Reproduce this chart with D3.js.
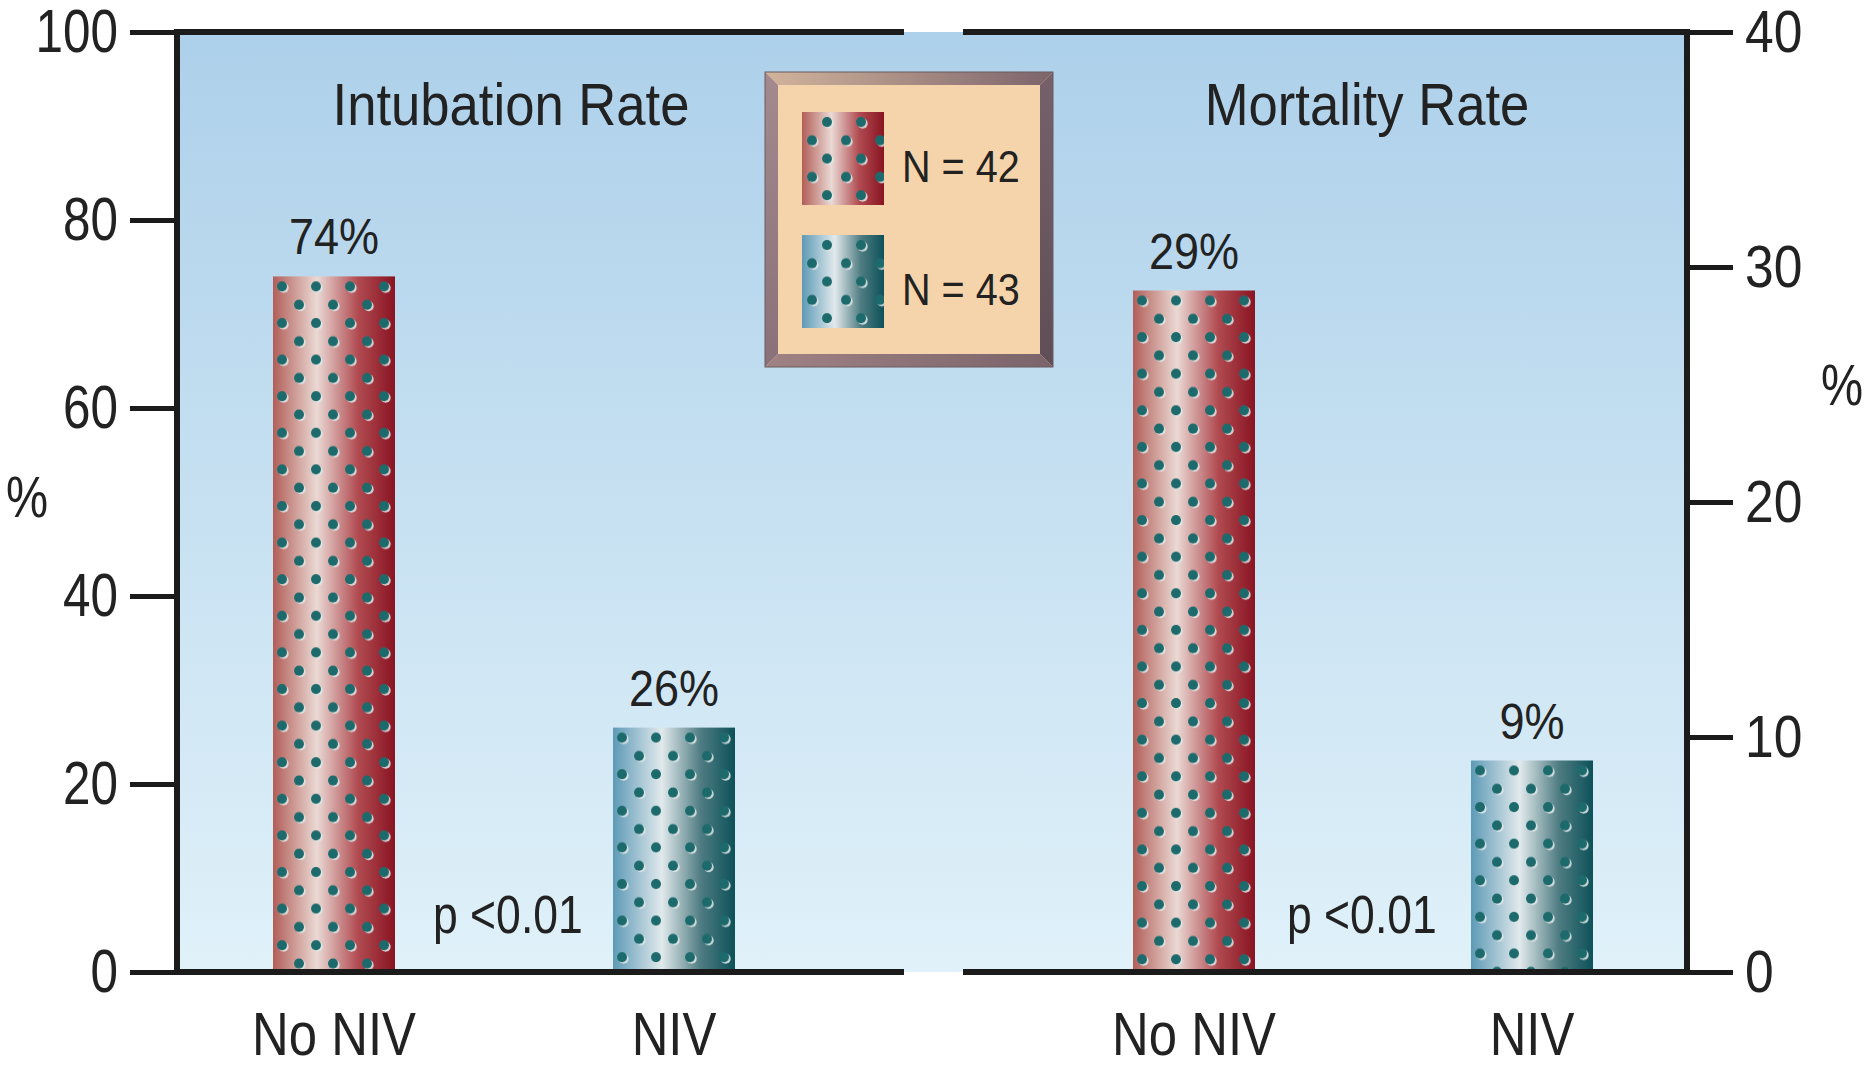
<!DOCTYPE html>
<html>
<head>
<meta charset="utf-8">
<script src="https://cdn.jsdelivr.net/npm/d3@7"></script>
<style>
  html, body { margin: 0; padding: 0; background: #ffffff; }
  svg { display: block; }
  text { font-family: "Liberation Sans", Arial, Helvetica, sans-serif; fill: #222222; }
</style>
</head>
<body>
<svg id="chart" width="1864" height="1067"></svg>
<script>
// ---- data ----
const categories = ["No NIV", "NIV"];
const intubationRate = [74, 26];   // % intubated
const mortalityRate = [29, 9];     // % mortality
const panelTitles = ["Intubation Rate", "Mortality Rate"];
const pValues = ["p <0.01", "p <0.01"];
const legendLabels = ["N = 42", "N = 43"];
const leftTicks = [0, 20, 40, 60, 80, 100];
const rightTicks = [0, 10, 20, 30, 40];

// ---- layout ----
const svg = d3.select("#chart");
const plot = { left: 177, right: 1687, top: 32, bottom: 972 };
const gap = { from: 904, to: 963 };          // break in the frame between panels
const barW = 122;
const ink = "#1b1b1b";

const yLeft = d3.scaleLinear().domain([0, 100]).range([plot.bottom, plot.top]);
const yRight = d3.scaleLinear().domain([0, 40]).range([plot.bottom, plot.top]);
const xLeft = d3.scalePoint().domain(categories).range([334, 674]);
const xRight = d3.scalePoint().domain(categories).range([1194, 1532]);

const defs = svg.append("defs");

// background gradient
const bg = defs.append("linearGradient").attr("id", "bgGrad")
  .attr("x1", 0).attr("y1", 0).attr("x2", 0).attr("y2", 1);
bg.append("stop").attr("offset", "0%").attr("stop-color", "#add0ea");
bg.append("stop").attr("offset", "100%").attr("stop-color", "#e0f1f9");

// bar fills: metallic cylinder look
const fills = [
  { id: "redGrad", stops: [["0%", "#b25e58"], ["36%", "#ead9d4"], ["70%", "#b04a50"], ["100%", "#891422"]] },
  { id: "tealGrad", stops: [["0%", "#5d9ab6"], ["40%", "#e1e9ec"], ["72%", "#4e7c82"], ["100%", "#0d5159"]] }
];
fills.forEach(f => {
  const g = defs.append("linearGradient").attr("id", f.id)
    .attr("x1", 0).attr("y1", 0).attr("x2", 1).attr("y2", 0);
  f.stops.forEach(s => g.append("stop").attr("offset", s[0]).attr("stop-color", s[1]));
});

// perforation dots, one tile origin per shape
let patCount = 0;
function dotPattern(x0, y0, phaseA, phaseB) {
  const id = "dots" + (patCount++);
  const pw = 34, ph = 36.6;
  const p = defs.append("pattern").attr("id", id)
    .attr("patternUnits", "userSpaceOnUse")
    .attr("x", x0).attr("y", y0).attr("width", pw).attr("height", ph);
  [[phaseA, 10], [phaseB, 10 + ph / 2]].forEach(([cx, cy]) => {
    p.append("circle").attr("cx", cx + 1.7).attr("cy", cy + 1.5).attr("r", 5)
      .attr("fill", "#dfe6e6").attr("opacity", 0.85);
    p.append("circle").attr("cx", cx).attr("cy", cy).attr("r", 5).attr("fill", "#1d6a6c");
  });
  return id;
}

function drawBar(xc, yTop, yBottom, gradId, phaseA, phaseB) {
  const x0 = xc - barW / 2;
  svg.append("rect").attr("x", x0).attr("y", yTop).attr("width", barW)
    .attr("height", yBottom - yTop).attr("fill", `url(#${gradId})`);
  const pid = dotPattern(x0, yTop, phaseA, phaseB);
  svg.append("rect").attr("x", x0).attr("y", yTop).attr("width", barW)
    .attr("height", yBottom - yTop).attr("fill", `url(#${pid})`);
}

// text with a narrow (condensed) stance
function label(parent, x, y, str, size, sx, anchor) {
  return parent.append("text")
    .attr("transform", `translate(${x},${y}) scale(${sx},1)`)
    .attr("text-anchor", anchor || "middle")
    .attr("font-size", size)
    .text(str);
}

// ---- plot background ----
svg.append("rect").attr("x", plot.left).attr("y", plot.top)
  .attr("width", plot.right - plot.left).attr("height", plot.bottom - plot.top)
  .attr("fill", "url(#bgGrad)");

// ---- bars ----
const barFill = ["redGrad", "tealGrad"];
categories.forEach((c, i) => {
  drawBar(xLeft(c), yLeft(intubationRate[i]), plot.bottom, barFill[i], 9, 26);
  drawBar(xRight(c), yRight(mortalityRate[i]), plot.bottom, barFill[i], 9, 26);
});

// value labels
categories.forEach((c, i) => {
  label(svg, xLeft(c), yLeft(intubationRate[i]) - 22, intubationRate[i] + "%", 50, 0.9);
  label(svg, xRight(c), yRight(mortalityRate[i]) - 22, mortalityRate[i] + "%", 50, 0.9);
});

// panel titles
label(svg, 511, 125, panelTitles[0], 60, 0.877);
label(svg, 1367, 125, panelTitles[1], 60, 0.877);

// p-values
label(svg, 433, 933, pValues[0], 53, 0.84, "start");
label(svg, 1287, 933, pValues[1], 53, 0.84, "start");

// category labels
categories.forEach(c => {
  label(svg, xLeft(c), 1055, c, 62, 0.82);
  label(svg, xRight(c), 1055, c, 62, 0.82);
});

// ---- axes ----
function styleAxis(g, sx) {
  g.select(".domain").remove();
  g.selectAll(".tick line").attr("stroke", ink).attr("stroke-width", 5);
  g.selectAll(".tick text")
    .attr("font-size", 61)
    .attr("fill", "#222")
    .each(function () {
      const t = d3.select(this);
      t.attr("x", +t.attr("x") / sx).attr("transform", `scale(${sx},1)`);
    });
}
const axL = svg.append("g").attr("transform", `translate(${plot.left},0)`)
  .call(d3.axisLeft(yLeft).tickValues(leftTicks).tickSize(47).tickPadding(12).tickSizeOuter(0));
styleAxis(axL, 0.81);
const axR = svg.append("g").attr("transform", `translate(${plot.right},0)`)
  .call(d3.axisRight(yRight).tickValues(rightTicks).tickSize(46).tickPadding(12).tickSizeOuter(0));
styleAxis(axR, 0.86);
axR.selectAll(".tick text").attr("font-size", 60);

// frame with a break between the two panels
const frame = svg.append("g").attr("stroke", ink).attr("stroke-width", 6).attr("fill", "none");
frame.append("line").attr("x1", plot.left).attr("x2", plot.left).attr("y1", plot.top - 3).attr("y2", plot.bottom + 3);
frame.append("line").attr("x1", plot.right).attr("x2", plot.right).attr("y1", plot.top - 3).attr("y2", plot.bottom + 3);
[plot.top, plot.bottom].forEach(y => {
  frame.append("line").attr("x1", plot.left).attr("x2", gap.from).attr("y1", y).attr("y2", y);
  frame.append("line").attr("x1", gap.to).attr("x2", plot.right).attr("y1", y).attr("y2", y);
});

// axis titles
label(svg, 27, 517, "%", 57, 0.83);
label(svg, 1842, 405, "%", 57, 0.83);

// ---- legend ----
const lg = { x: 765, y: 72, w: 288, h: 295, b: 13 };
const bevels = [
  { id: "bvTop", dir: [0, 0, 1, 0], c: ["#d2b49c", "#7c646c"],
    pts: [[0, 0], [lg.w, 0], [lg.w - lg.b, lg.b], [lg.b, lg.b]] },
  { id: "bvLeft", dir: [0, 0, 0, 1], c: ["#a38a8e", "#8a7078"],
    pts: [[0, 0], [lg.b, lg.b], [lg.b, lg.h - lg.b], [0, lg.h]] },
  { id: "bvRight", dir: [0, 0, 0, 1], c: ["#76616a", "#5f4e56"],
    pts: [[lg.w, 0], [lg.w, lg.h], [lg.w - lg.b, lg.h - lg.b], [lg.w - lg.b, lg.b]] },
  { id: "bvBottom", dir: [0, 0, 1, 0], c: ["#a08284", "#7a646a"],
    pts: [[0, lg.h], [lg.b, lg.h - lg.b], [lg.w - lg.b, lg.h - lg.b], [lg.w, lg.h]] }
];
const legendG = svg.append("g").attr("transform", `translate(${lg.x},${lg.y})`);
legendG.append("rect").attr("width", lg.w).attr("height", lg.h).attr("fill", "#f6d4ab");
bevels.forEach(bv => {
  const gr = defs.append("linearGradient").attr("id", bv.id)
    .attr("x1", bv.dir[0]).attr("y1", bv.dir[1]).attr("x2", bv.dir[2]).attr("y2", bv.dir[3]);
  gr.append("stop").attr("offset", "0%").attr("stop-color", bv.c[0]);
  gr.append("stop").attr("offset", "100%").attr("stop-color", bv.c[1]);
  legendG.append("polygon").attr("points", bv.pts.map(p => p.join(",")).join(" "))
    .attr("fill", `url(#${bv.id})`);
});
legendG.append("rect").attr("width", lg.w).attr("height", lg.h)
  .attr("fill", "none").attr("stroke", "#6b5a5e").attr("stroke-width", 1);

legendLabels.forEach((t, i) => {
  const sx = lg.x + 37, sy = lg.y + 40 + i * 123, sw = 82, sh = 93;
  svg.append("rect").attr("x", sx).attr("y", sy).attr("width", sw).attr("height", sh)
    .attr("fill", `url(#${barFill[i]})`);
  const pid = dotPattern(sx, sy, 25, 10);
  svg.append("rect").attr("x", sx).attr("y", sy).attr("width", sw).attr("height", sh)
    .attr("fill", `url(#${pid})`);
  label(svg, sx + sw + 18, sy + 70, t, 44, 0.9, "start");
});
</script>
</body>
</html>
